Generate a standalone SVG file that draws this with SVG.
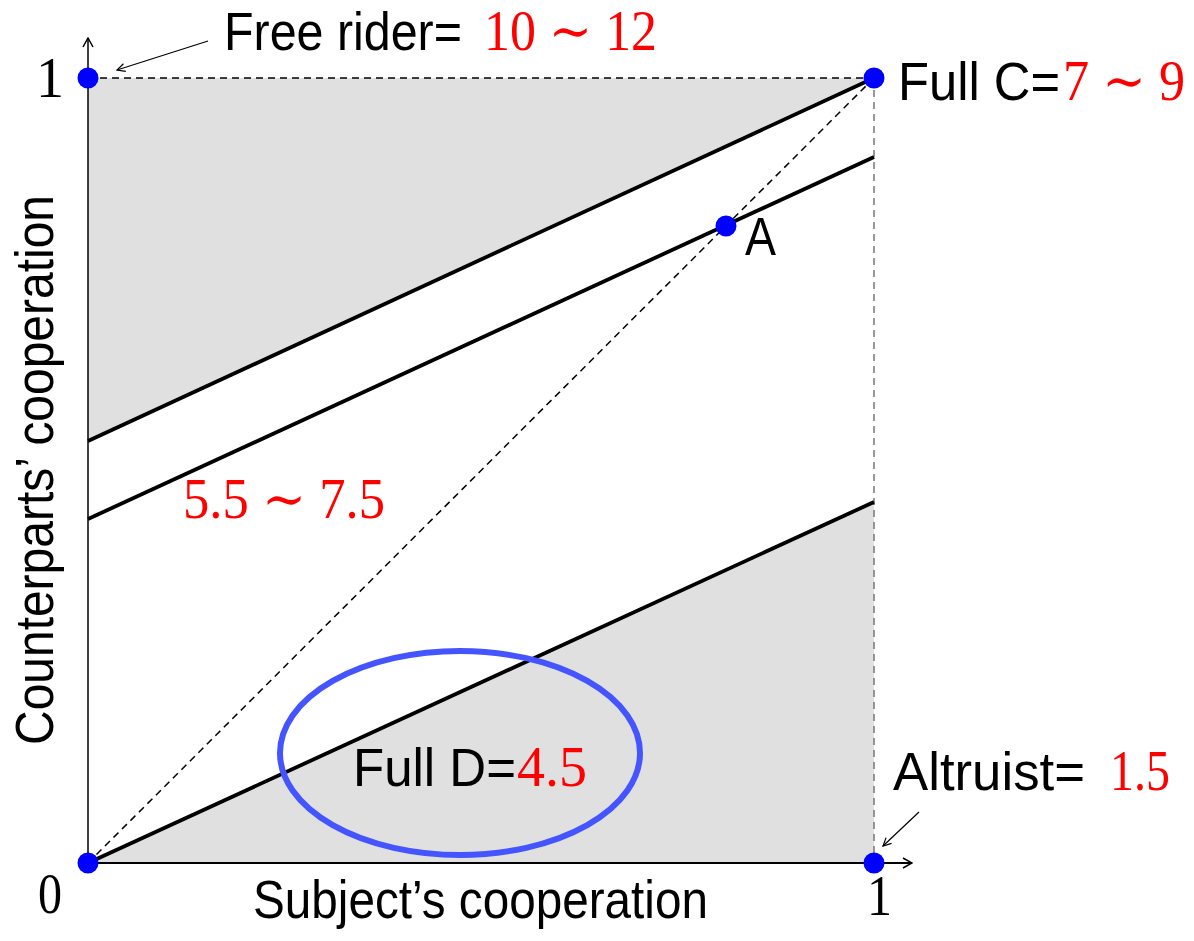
<svg xmlns="http://www.w3.org/2000/svg" width="1194" height="941" viewBox="0 0 1194 941">
<defs>
<marker id="arr" viewBox="0 0 10 10" refX="9" refY="5" markerWidth="10" markerHeight="10" markerUnits="userSpaceOnUse" orient="auto">
<path d="M1,1 L9,5 L1,9" fill="none" stroke="#000" stroke-width="1.2"/>
</marker>
<marker id="axarr" viewBox="0 0 12 12" refX="11" refY="6" markerWidth="12" markerHeight="12" markerUnits="userSpaceOnUse" orient="auto">
<path d="M2,1 L11,6 L2,11" fill="none" stroke="#000" stroke-width="1.5"/>
</marker>
</defs>
<style>
.s{font-family:"Liberation Sans","DejaVu Sans",sans-serif;font-size:53px;fill:#000}
.r{font-family:"Liberation Serif","DejaVu Serif",serif;font-size:56px;fill:#ff0000}
.k{font-family:"Liberation Serif","DejaVu Serif",serif;font-size:56px;fill:#000}
.thick{stroke:#000;stroke-width:3.8;fill:none}
.dash{stroke:#000;stroke-width:1.5;stroke-dasharray:7,5;fill:none}
.dot{fill:#0000ff}
</style>
<rect width="1194" height="941" fill="#fff"/>
<g id="regions">
<polygon points="88,78 874,78 88,441" fill="#e0e0e0"/>
<polygon points="88,863 874,502 874,863" fill="#e0e0e0"/>
</g>
<g id="connectors">
<line x1="88" y1="78" x2="874" y2="78" class="dash" stroke="#444"/>
<line x1="874" y1="78" x2="874" y2="863" class="dash" style="stroke:#777"/>
<line x1="88" y1="863" x2="874" y2="78" class="dash"/>
<line x1="88" y1="441" x2="874" y2="78" class="thick"/>
<line x1="88" y1="519" x2="874" y2="157" class="thick"/>
<line x1="88" y1="863" x2="874" y2="502" class="thick"/>
<line x1="88" y1="863" x2="88" y2="38" stroke="#000" stroke-width="1.5" marker-end="url(#axarr)"/>
<line x1="88" y1="863" x2="912" y2="863" stroke="#000" stroke-width="2" marker-end="url(#axarr)"/>
<line x1="208" y1="41" x2="117" y2="70" stroke="#000" stroke-width="1.2" marker-end="url(#arr)"/>
<line x1="919" y1="812" x2="883" y2="846" stroke="#000" stroke-width="1.2" marker-end="url(#arr)"/>
</g>
<g id="fullD">
<ellipse cx="460" cy="753" rx="180" ry="102" fill="none" stroke="#4455ff" stroke-width="6"/>
<text x="353" y="786" class="s" textLength="163" lengthAdjust="spacingAndGlyphs">Full D=</text>
<text x="517" y="786" class="r" textLength="70" lengthAdjust="spacingAndGlyphs">4.5</text>
</g>
<g id="points">
<circle cx="88" cy="78" r="10.5" class="dot"/>
<circle cx="874" cy="78" r="10.5" class="dot"/>
<circle cx="726" cy="226" r="10.5" class="dot"/>
<circle cx="88" cy="863" r="10.5" class="dot"/>
<circle cx="874" cy="863" r="10.5" class="dot"/>
</g>
<g id="freeRider">
<text x="224" y="50" class="s" textLength="238" lengthAdjust="spacingAndGlyphs">Free rider=</text>
<text x="484" y="50" class="r" textLength="173" lengthAdjust="spacingAndGlyphs">10 ∼ 12</text>
</g>
<g id="fullC">
<text x="898" y="100" class="s" textLength="162" lengthAdjust="spacingAndGlyphs">Full C=</text>
<text x="1063" y="100" class="r" textLength="122" lengthAdjust="spacingAndGlyphs">7 ∼ 9</text>
</g>
<g id="pointA">
<text x="745" y="255" class="s" textLength="31" lengthAdjust="spacingAndGlyphs">A</text>
</g>
<g id="midLabel">
<text x="183" y="518" class="r" textLength="202" lengthAdjust="spacingAndGlyphs">5.5 ∼ 7.5</text>
</g>
<g id="altruist">
<text x="893" y="790" class="s" textLength="192" lengthAdjust="spacingAndGlyphs">Altruist=</text>
<text x="1110" y="790" class="r" textLength="60" lengthAdjust="spacingAndGlyphs">1.5</text>
</g>
<g id="axisLabels">
<text x="38" y="913" class="k" textLength="24" lengthAdjust="spacingAndGlyphs">0</text>
<text x="867" y="915" class="k" textLength="25" lengthAdjust="spacingAndGlyphs">1</text>
<text x="36" y="97" class="k" textLength="28" lengthAdjust="spacingAndGlyphs">1</text>
<text x="253" y="918" class="s" textLength="455" lengthAdjust="spacingAndGlyphs">Subject’s cooperation</text>
<text transform="translate(53,745) rotate(-90)" x="0" y="0" class="s" textLength="550" lengthAdjust="spacingAndGlyphs">Counterparts’ cooperation</text>
</g>
</svg>
